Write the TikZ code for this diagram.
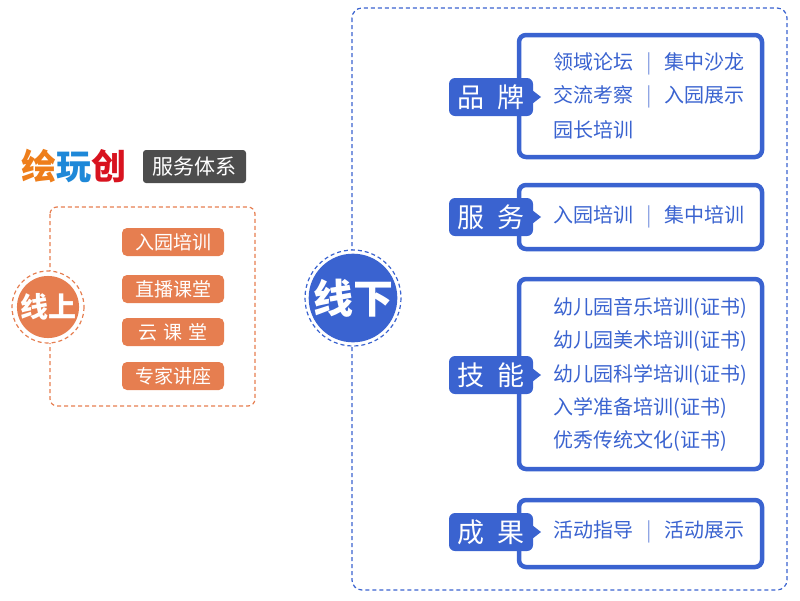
\documentclass[tikz,border=0pt]{standalone}
\usepackage{fontspec}
\setmainfont{Noto Sans CJK SC}
\usetikzlibrary{positioning}
\definecolor{lineblue}{HTML}{3A63D0}
\definecolor{lineorange}{HTML}{E67E50}
\definecolor{titlegray}{HTML}{4D4D4D}
\newcommand{\sep}{\hspace{13pt}\textcolor{lineblue!60}{|}\hspace{13pt}}

\begin{document}
\begin{tikzpicture}[x=1pt,y=-1pt,semithick,
	frame/.style={line width=1.2pt,dash pattern=on 4pt off 3pt},
	tag/.style={fill=lineblue,rounded corners=6pt,text=white,font=\fontsize{27}{27}\selectfont,minimum width=84pt,minimum height=38pt,inner sep=0pt},
	panel/.style={draw=lineblue,line width=4.5pt,rounded corners=7pt,fill=white},
	item/.style={text=lineblue,font=\fontsize{20}{20}\selectfont,anchor=west,inner sep=0pt},
	btn/.style={fill=lineorange,rounded corners=5pt,text=white,font=\fontsize{19}{19}\selectfont,minimum width=102pt,minimum height=28pt,inner sep=0pt}]
	\useasboundingbox (0,0) rectangle (800,600);
	% title
	\node[font=\fontsize{35}{35}\selectfont\bfseries,anchor=west,inner sep=0pt] (brand) at (21,166)
		{\textcolor[HTML]{EE7E1B}{绘}\textcolor[HTML]{1E88D8}{玩}\textcolor[HTML]{D8131F}{创}};
	\node[fill=titlegray,text=white,rounded corners=3pt,font=\fontsize{21}{21}\selectfont,minimum width=103pt,minimum height=33pt,inner sep=0pt] (system) at (194.5,166.5) {服务体系};
	% online part
	\draw[lineorange,frame,rounded corners=7pt] (50,207) rectangle (255,406);
	\node[btn] (o1) at (173,242) {入园培训};
	\node[btn] (o2) at (173,289) {直播课堂};
	\node[btn] (o3) at (173,332) {云\,\,课\,\,堂};
	\node[btn] (o4) at (173,376) {专家讲座};
	\draw[lineorange,frame,fill=white] (48,307) circle (36);
	\node[circle,fill=lineorange,minimum size=62pt,text=white,font=\fontsize{28}{28}\selectfont\bfseries,inner sep=0pt] (online) at (48,307) {线上};
	% offline part
	\draw[lineblue,frame,rounded corners=10pt] (352,8) rectangle (787,590);
	\draw[lineblue,frame,fill=white] (353,298) circle (48);
	\node[circle,fill=lineblue,minimum size=84pt,text=white,font=\fontsize{40}{40}\selectfont\bfseries,inner sep=0pt] (offline) at (353,298) {线下};
	% panels
	\draw[panel] (519,35) rectangle (762,157);
	\draw[panel] (519,185) rectangle (762,249);
	\draw[panel] (519,279) rectangle (762,469);
	\draw[panel] (519,500) rectangle (762,567);
	\foreach \y/\t/\n in {97/品\ \ 牌/pinpai,217/服\ \ 务/fuwu,375/技\ \ 能/jineng,532/成\ \ 果/chengguo}{
		\node[tag] (\n) at (491,\y) {\t};
		\fill[lineblue] (532,\y-7) -- (541,\y) -- (532,\y+7) -- cycle;
	}
	\node[item] (b1) at (553,64) {领域论坛\sep 集中沙龙};
	\node[item] (b2) at (553,97) {交流考察\sep 入园展示};
	\node[item] (b3) at (553,130) {园长培训};
	\node[item] (s1) at (553,217) {入园培训\sep 集中培训};
	\node[item] (k1) at (553,308) {幼儿园音乐培训(证书)};
	\node[item] (k2) at (553,341) {幼儿园美术培训(证书)};
	\node[item] (k3) at (553,375) {幼儿园科学培训(证书)};
	\node[item] (k4) at (553,408) {入学准备培训(证书)};
	\node[item] (k5) at (553,441) {优秀传统文化(证书)};
	\node[item] (r1) at (553,532) {活动指导\sep 活动展示};
\end{tikzpicture}
\end{document}
